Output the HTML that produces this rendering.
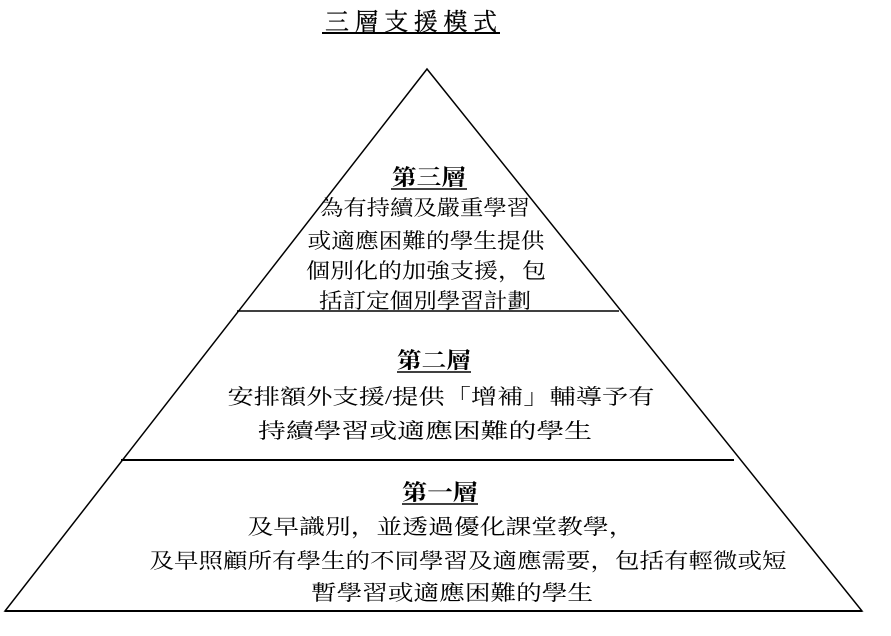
<!DOCTYPE html>
<html><head><meta charset="utf-8"><style>
html,body{margin:0;padding:0;background:#fff;}
svg{display:block;}
text{font-family:"Liberation Serif","Noto Serif CJK SC","Noto Sans CJK TC",serif;fill:#000;}
</style></head><body>
<svg width="891" height="636" viewBox="0 0 891 636" xmlns="http://www.w3.org/2000/svg">
<text x="411" y="30" font-size="24" text-anchor="middle" textLength="172" lengthAdjust="spacing" stroke="#000" stroke-width="0.3">三層支援模式</text>
<line x1="322" y1="33" x2="500" y2="33" stroke="#000" stroke-width="2"/>
<polygon points="427,69 5,611 862,611" fill="none" stroke="#000" stroke-width="1.5"/>
<line x1="5" y1="611" x2="862" y2="611" stroke="#000" stroke-width="2"/>
<line x1="237" y1="311" x2="619" y2="311" stroke="#000" stroke-width="1.5"/>
<line x1="121" y1="460" x2="734" y2="460" stroke="#000" stroke-width="2"/>

<text x="429" y="185" font-size="22" font-weight="bold" text-anchor="middle" textLength="74" lengthAdjust="spacingAndGlyphs">第三層</text>
<line x1="391" y1="189" x2="467" y2="189" stroke="#000" stroke-width="1.5"/>
<text x="425" y="215" font-size="21" text-anchor="middle" textLength="210" lengthAdjust="spacingAndGlyphs">為有持續及嚴重學習</text>
<text x="426" y="248" font-size="21" text-anchor="middle" textLength="237" lengthAdjust="spacingAndGlyphs">或適應困難的學生提供</text>
<text x="426" y="278" font-size="21" text-anchor="middle" textLength="240" lengthAdjust="spacingAndGlyphs">個別化的加強支援，包</text>
<text x="425" y="308" font-size="21" text-anchor="middle" textLength="212" lengthAdjust="spacingAndGlyphs">括訂定個別學習計劃</text>

<text x="434" y="368" font-size="22" font-weight="bold" text-anchor="middle" textLength="74" lengthAdjust="spacingAndGlyphs">第二層</text>
<line x1="397" y1="372" x2="471" y2="372" stroke="#000" stroke-width="1.5"/>
<text x="441" y="404" font-size="21" text-anchor="middle" textLength="427" lengthAdjust="spacingAndGlyphs">安排額外支援/提供「增補」輔導予有</text>
<text x="425" y="438" font-size="21" text-anchor="middle" textLength="334" lengthAdjust="spacingAndGlyphs">持續學習或適應困難的學生</text>

<text x="440" y="500" font-size="22" font-weight="bold" text-anchor="middle" textLength="76" lengthAdjust="spacingAndGlyphs">第一層</text>
<line x1="402" y1="504" x2="478" y2="504" stroke="#000" stroke-width="1.5"/>
<text x="441" y="534" font-size="21" text-anchor="middle" textLength="387" lengthAdjust="spacingAndGlyphs">及早識別，並透過優化課堂教學，</text>
<text x="468" y="568" font-size="21" text-anchor="middle" textLength="637" lengthAdjust="spacingAndGlyphs">及早照顧所有學生的不同學習及適應需要，包括有輕微或短</text>
<text x="452" y="600" font-size="21" text-anchor="middle" textLength="282" lengthAdjust="spacingAndGlyphs">暫學習或適應困難的學生</text>
</svg>
</body></html>
